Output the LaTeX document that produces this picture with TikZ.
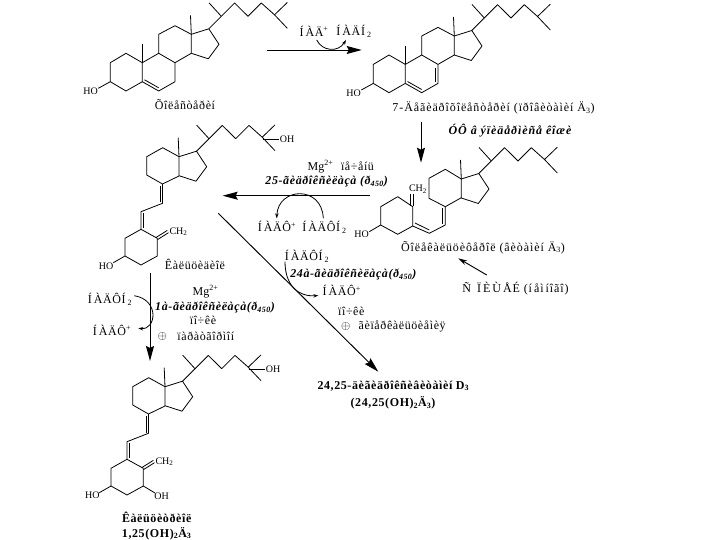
\documentclass[tikz,border=0pt]{standalone}
\usepackage{fontspec}
\setmainfont{Liberation Serif}
\newfontfamily\cyrfont[LetterSpace=5]{Liberation Serif}
\newfontfamily\cyrwide[LetterSpace=7.5]{Liberation Serif}
\usetikzlibrary{arrows.meta}
\tikzset{
  bond/.style={line width=0.8pt,line join=round},
  reaction/.style={line width=0.95pt,-{Stealth[length=15pt,width=8pt,inset=2pt]}},
  cofactor/.style={line width=0.8pt,-{Stealth[length=5pt,width=3.5pt]}},
  compound/.style={inner sep=0pt,font=\cyrfont\fontsize{12}{14}\selectfont},
  longname/.style={inner sep=0pt,font=\cyrwide\fontsize{12}{14}\selectfont},
  enzyme/.style={inner sep=0pt,font=\cyrfont\fontsize{12}{14}\selectfont\bfseries\itshape},
  product/.style={inner sep=0pt,font=\cyrfont\fontsize{12}{14}\selectfont\bfseries},
  atom/.style={inner sep=0pt,font=\fontsize{10}{12}\selectfont},
  % ring D, angular methyl and the side chain, origin at C13
  dring/.pic={
    \draw[bond] (0,0) -- (0,19) -- (17,24.5) -- (27.7,10) -- (17.5,-5.5) -- cycle;
    \draw[bond] (0,0) -- (-0.8,-19);
    \draw[bond] (17.5,-5.5) -- (30,-18) -- (17.7,-31.5);
    \draw[bond] (30,-18) -- (43.3,-31.3) -- (56.7,-18) -- (70,-31.3) -- (83.2,-19.5) -- (96,-31.8);
    \draw[bond] (83.2,-19.5) -- (96,-6);
  },
  steroid/.pic={
    \draw[bond] (110.3,81.7) -- (110.3,62.7) -- (126,53.3) -- (142.3,62.7) -- (142.3,81.7) -- (126,91) -- cycle;
    \draw[bond] (142.3,81.7) -- (158.7,91) -- (175,81.7) -- (175,62.7) -- (158.7,53.3) -- (142.3,62.7);
    \draw[bond] (158.7,53.3) -- (158.7,34.3) -- (175,25.7) -- (191.3,34.3);
    \draw[bond] (175,62.7) -- (191.3,53.3);
    \draw[bond] (142.3,62.7) -- (142.3,44);
    \draw[bond] (110.3,81.7) -- (98.3,88.3);
    \draw[bond] (144.5,79.8) -- (158.7,87.8);
    \pic at (191.3,34.3) {dring};
  },
  calciol/.pic={
    \draw[bond] (162.5,184) -- (146.7,175) -- (146.7,156.7) -- (162.7,147.7) -- (179,156.7);
    \draw[bond] (179,176) -- (162.5,184) -- (162.5,203.3) -- (141,211.7) -- (141,229.3);
    \draw[bond] (160,186) -- (160,202.5);
    \draw[bond] (143.5,213) -- (143.5,228);
    \draw[bond] (141,229.3) -- (157.3,238.3) -- (157.3,256) -- (141,265) -- (125,256) -- (125,238.3) -- cycle;
    \draw[bond] (125,256) -- (113.3,262.7);
    \draw[bond] (156,237.5) -- (167.3,230.4);
    \draw[bond] (157.5,239.6) -- (168.5,232.7);
    \draw[bond] (262.5,139) -- (279,139);
    \pic at (179,156.7) {dring};
  },
}
\begin{document}
\begin{tikzpicture}[x=1pt,y=-1pt]
   \useasboundingbox (0,0) rectangle (720,540);

   % Cholesterol and 7-dehydrocholesterol
   \pic at (0,0) {steroid};
   \pic at (263,1.7) {steroid};
   \draw[bond] (435,68) -- (435,82);
   \node[atom] (hoChol) at (90.7,91.7) {HO};
   \node[atom] (hoDehydro) at (353.7,93.3) {HO};
   \node[compound] (cholesterol) at (185,105) {Õîëåñòåðèí};
   \node[longname] (dehydro) at (493.5,107.7) {7-Äåãèäðîõîëåñòåðèí (ïðîâèòàìèí Ä\textsubscript{3})};

   % Cholecalciferol
   \draw[bond] (380.7,225) -- (380.7,206.7) -- (397.7,196.7) -- (412.7,206.7) -- (412.7,226) -- (397.7,234.3) -- cycle;
   \draw[bond] (380.7,225) -- (369.3,231.7);
   \draw[bond] (410.7,206) -- (410.7,192.5);
   \draw[bond] (413.5,206) -- (413.5,192.5);
   \draw[bond] (412.7,226) -- (429.3,233.3) -- (445.3,225) -- (445.3,206.7);
   \draw[bond] (415,223) -- (429.3,230);
   \draw[bond] (442.4,208) -- (442.4,224);
   \draw[bond] (445.3,206.7) -- (429,198.3) -- (429,178.3) -- (445.3,169.3) -- (461.3,179);
   \draw[bond] (445.3,206.7) -- (461.3,197.7);
   \pic at (461.3,179) {dring};
   \node[atom,fill=white,inner sep=0.5pt] (chTwoD) at (418,189) {CH\textsubscript{2}};
   \node[atom] (hoD) at (361.7,234.3) {HO};
   \node[longname] (calciferol) at (483,247.3) {Õîëåêàëüöèôåðîë (âèòàìèí Ä\textsubscript{3})};
   \node[enzyme,font=\cyrwide\fontsize{12}{14}\selectfont\bfseries\itshape] (uv) at (510,131) {ÓÔ â ýïèäåðìèñå êîæè};
   \node[longname] (food) at (515.5,288.3) {Ñ\, Ï\,È\,Ù\,ÅÉ (í\,åì\,íîãî)};

   % Calcidiol and calcitriol
   \pic at (0,0) {calciol};
   \pic at (-14,230) {calciol};
   \node[atom] (ohDiol) at (287,139) {OH};
   \node[atom] (chTwoDiol) at (178.5,231.7) {CH\textsubscript{2}};
   \node[atom] (hoDiol) at (106,266.7) {HO};
   \node[compound] (calcidiol) at (195,264.3) {Êàëüöèäèîë};
   \node[atom] (ohTriol) at (273,369) {OH};
   \node[atom] (chTwoTriol) at (164.5,461.7) {CH\textsubscript{2}};
   \node[atom] (hoTriolA) at (92.3,495.7) {HO};
   \node[atom] (ohTriolB) at (161.7,496) {OH};
   \draw[bond] (143.3,486) -- (155,493);
   \node[product] (calcitriol) at (156.7,517.3) {Êàëüöèòðèîë};
   \node[product] (calcitriolShort) at (156.7,533.3) {1,25(OH)\textsubscript{2}Ä\textsubscript{3}};

   % Step 1: cholesterol to 7-dehydrocholesterol
   \coordinate (stepOneA) at (267.3,50);
   \coordinate (stepOneB) at (361.7,50);
   \draw[reaction] (stepOneA) -- (stepOneB);
   \node[compound] (nadPlus) at (314,31) {Í\,ÀÄ\textsuperscript{+}};
   \node[compound] (nadH) at (354,31.5) {Í\,ÀÄÍ\,\textsubscript{2}};
   \draw[cofactor] (316.7,40) .. controls (322,51) and (338,53) .. (346,40);

   % Step 2: ultraviolet, and the supply with food
   \coordinate (stepTwoA) at (421,122);
   \coordinate (stepTwoB) at (421,162.7);
   \draw[reaction] (stepTwoA) -- (stepTwoB);
   \coordinate (foodA) at (486.7,275);
   \coordinate (foodB) at (458.3,258.3);
   \draw[line width=0.95pt,-{Stealth[length=9pt,width=5pt]}] (foodA) -- (foodB);

   % Step 3: in the liver
   \coordinate (liverA) at (370,195.7);
   \coordinate (liverB) at (222.7,195.7);
   \draw[reaction] (liverA) -- (liverB);
   \node[atom,font=\fontsize{12}{14}\selectfont] (mgLiver) at (320.5,166.7) {Mg\textsuperscript{2+}};
   \node[compound] (liver) at (357.5,166) {ïå÷åíü};
   \node[enzyme] (enzymeLiver) at (326.7,181.7) {25-ãèäðîêñèëàçà (ð\textsubscript{450})};
   \node[compound] (nadpLiver) at (277,226.7) {Í\,ÀÄÔ\textsuperscript{+}};
   \node[compound] (nadphLiver) at (324.5,227) {Í\,ÀÄÔÍ\,\textsubscript{2}};
   \draw[cofactor] (323.3,218.3) .. controls (322,185) and (278,187) .. (276.7,218.3);

   % Step 4: in the kidney, to the 24,25 product
   \coordinate (sideA) at (218.3,213.3);
   \coordinate (sideB) at (378.3,371.7);
   \draw[reaction] (sideA) -- (sideB);
   \node[compound] (nadphSide) at (307,256) {Í\,ÀÄÔÍ\,\textsubscript{2}};
   \node[enzyme] (enzymeSide) at (353.4,275) {24à-ãèäðîêñèëàçà(ð\textsubscript{450})};
   \node[compound] (nadpSide) at (341.7,290.7) {Í\,ÀÄÔ\textsuperscript{+}};
   \draw[cofactor] (285,261.7) .. controls (285,285) and (298,297) .. (318.3,295.5);
   \node[compound] (kidneySide) at (351.3,311.7) {ïî÷êè};
   \node[atom,font=\fontsize{13}{14}\selectfont] (plusSide) at (345.7,326) {$\oplus$};
   \node[compound] (hypercalc) at (402.2,326.7) {ãèïåðêàëüöèåìèÿ};
   \node[product] (sideProduct) at (393.3,385.7) {24,25-äèãèäðîêñèâèòàìèí D\textsubscript{3}};
   \node[product] (sideShort) at (393,403) {(24,25(OH)\textsubscript{2}Ä\textsubscript{3})};

   % Step 5: in the kidney, to calcitriol
   \coordinate (kidneyA) at (150,273);
   \coordinate (kidneyB) at (150,361);
   \draw[reaction] (kidneyA) -- (kidneyB);
   \node[compound] (nadphKidney) at (110,299) {Í\,ÀÄÔÍ\,\textsubscript{2}};
   \node[compound] (nadpKidney) at (112,330) {Í\,ÀÄÔ\textsuperscript{+}};
   \draw[cofactor] (134.3,295.7) .. controls (160,300) and (156,330) .. (138.3,328.3);
   \node[atom,font=\fontsize{12}{14}\selectfont] (mgKidney) at (205.5,291.7) {Mg\textsuperscript{2+}};
   \node[enzyme] (enzymeKidney) at (215,307.3) {1à-ãèäðîêñèëàçà(ð\textsubscript{450})};
   \node[compound] (kidney) at (203,320) {ïî÷êè};
   \node[atom,font=\fontsize{13}{14}\selectfont] (plusKidney) at (162.3,336) {$\oplus$};
   \node[compound] (parathormone) at (205.8,336) {ïàðàòãîðìîí};
\end{tikzpicture}
\end{document}
